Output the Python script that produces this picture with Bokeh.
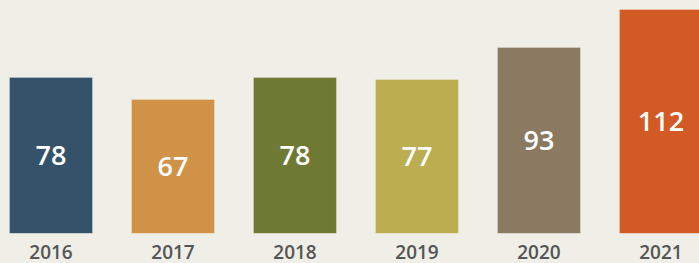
from bokeh.plotting import figure
from bokeh.models import ColumnDataSource, Range1d, FixedTicker
from bokeh.embed import file_html
from bokeh.resources import INLINE
from bokeh.core.properties import value

years = ["2016", "2017", "2018", "2019", "2020", "2021"]
counts = [78, 67, 78, 77, 93, 112]
colors = ["#34536B", "#CF9246", "#6E7A34", "#BBAD50", "#8A7A61", "#D45A25"]

BG = "#EFEFE8"
FONT = "'Open Sans SemiBold', 'Open Sans'"
FONT_BAR = "'Open Sans Medium', 'Open Sans SemiBold', 'Open Sans'"
xs = list(range(len(years)))
src = ColumnDataSource(dict(
    x=xs, top=counts, color=colors,
    mid=[c / 2 for c in counts],
    label=[str(c) for c in counts],
))

p = figure(width=699, height=263, output_backend="svg", toolbar_location=None,
           x_range=Range1d(-0.414, 5.316), y_range=Range1d(0, 116.5),
           min_border_left=0, min_border_right=0, min_border_top=0, min_border_bottom=30)
p.background_fill_color = BG
p.border_fill_color = BG
p.outline_line_color = None
p.grid.visible = False
p.yaxis.visible = False

p.vbar(x="x", top="top", bottom=0, width=0.68, source=src, fill_color="color",
       line_color="white", line_alpha=0.25, line_width=1)
p.text(x="x", y="mid", text="label", source=src, text_align="center",
       text_baseline="middle", text_color="white", text_font=value(FONT_BAR),
       text_font_style="normal", text_font_size="27px")

ax = p.xaxis[0]
ax.ticker = FixedTicker(ticks=xs)
ax.major_label_overrides = {i: y for i, y in zip(xs, years)}
ax.axis_line_color = None
ax.major_tick_line_color = None
ax.minor_tick_line_color = None
ax.major_label_standoff = 5
ax.major_label_text_font = FONT
ax.major_label_text_font_style = "normal"
ax.major_label_text_font_size = "19px"
ax.major_label_text_color = "#555555"

html = file_html(p, INLINE)
html = html.replace("<head>", "<head><style>body{background:%s;}</style>" % BG, 1)
open("out.html", "w").write(html)
